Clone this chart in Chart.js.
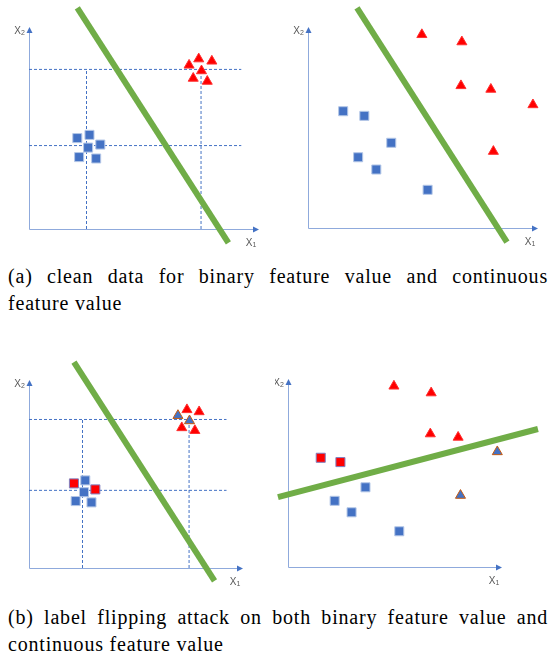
<!DOCTYPE html>
<html>
<head>
<meta charset="utf-8">
<script src="https://cdn.jsdelivr.net/npm/chart.js@4"></script>
<style>
  body { margin: 0; background: #fff; }
  #page { position: relative; width: 550px; height: 662px; overflow: hidden; }
  canvas { position: absolute; }
  .caption {
    position: absolute; left: 8px; width: 540px;
    font-family: "Liberation Serif", "Tinos", "Noto Serif", "DejaVu Serif", serif;
    font-size: 20px; line-height: 27px; color: #000; letter-spacing: 0.8px;
  }
  .caption .full { text-align: justify; text-align-last: justify; white-space: nowrap; }
</style>
</head>
<body>
<div id="page">
  <canvas id="c1" width="275" height="250" style="left:0;top:0"></canvas>
  <canvas id="c2" width="275" height="250" style="left:275px;top:0"></canvas>
  <canvas id="c3" width="275" height="255" style="left:0;top:340px"></canvas>
  <canvas id="c4" width="275" height="255" style="left:275px;top:340px"></canvas>
  <div class="caption" style="top:263px">
    <div class="full">(a) clean data for binary feature value and continuous</div>
    <div>feature value</div>
  </div>
  <div class="caption" style="top:604px">
    <div class="full">(b) label flipping attack on both binary feature value and</div>
    <div>continuous feature value</div>
  </div>
</div>
<script>
// values in axis units: each arrow runs from 0 to 10
var binSquaresX = [2.1, 2.63, 3.1, 2.57, 2.18, 2.92];
var binSquaresY = [4.5, 4.66, 4.18, 4.03, 3.56, 3.49];
var binTrianglesX = [6.96, 7.38, 7.95, 7.5, 7.14, 7.75];
var binTrianglesY = [8.11, 8.42, 8.31, 7.83, 7.46, 7.31];
var contSquaresX = [1.53, 2.45, 3.62, 2.18, 2.97, 5.2];
var contSquaresY = [5.81, 5.58, 4.24, 3.52, 2.91, 1.9];
var contTrianglesX = [4.95, 6.69, 6.65, 7.95, 9.78, 8.06];
var contTrianglesY = [9.62, 9.26, 7.08, 6.9, 6.13, 3.81];

// which points get the flipped label in (b)
var binSquaresFlip = [1, 0, 1, 0, 0, 0];
var binTrianglesFlip = [1, 0, 0, 1, 0, 0];
var contSquaresFlip = [1, 1, 0, 0, 0, 0];
var contTrianglesFlip = [0, 0, 0, 0, 1, 1];

// dashed guides of the binary feature values
var guideX = [2.5, 7.48];
var guideY = [4.13, 7.9];
var guideEnd = 9.23;

// decision boundaries: x1, y1, x2, y2
var boundaryBin = [2.1, 10.95, 8.67, -0.69];
var boundaryCont = [2.13, 10.95, 8.65, -0.7];
var boundaryFlip = [-0.47, 3.72, 11.68, 7.34];

var BLUE = '#4472C4', RED = '#FF0000', GREEN = '#70AD47';

function xy(xs, ys) {
  return xs.map(function(v, i) { return { x: v, y: ys[i] }; });
}

function pointSets(sqX, sqY, trX, trY, sqFlip, trFlip) {
  sqFlip = sqFlip || sqX.map(function() { return 0; });
  trFlip = trFlip || trX.map(function() { return 0; });
  return [{
    data: xy(sqX, sqY),
    pointStyle: 'rect',
    pointRadius: 6.4,
    pointBackgroundColor: sqFlip.map(function(f) { return f ? RED : BLUE; }),
    pointBorderColor: sqFlip.map(function(f) { return f ? '#8080C0' : '#B4C7E7'; }),
    pointBorderWidth: 1,
    showLine: false,
    order: 0
  }, {
    data: xy(trX, trY),
    pointStyle: 'triangle',
    pointRadius: 5.8,
    pointBackgroundColor: trFlip.map(function(f) { return f ? BLUE : RED; }),
    pointBorderColor: trFlip.map(function(f) { return f ? '#C55A11' : '#FF3030'; }),
    pointBorderWidth: 1,
    showLine: false,
    order: 0
  }];
}

function boundary(b) {
  return {
    data: [{ x: b[0], y: b[1] }, { x: b[2], y: b[3] }],
    showLine: true,
    borderColor: GREEN,
    borderWidth: 6,
    pointRadius: 0,
    order: 1
  };
}

function guides() {
  var sets = [];
  guideY.forEach(function(g) {
    sets.push({ data: [{ x: 0, y: g }, { x: guideEnd, y: g }] });
  });
  guideX.forEach(function(g) {
    sets.push({ data: [{ x: g, y: 0 }, { x: g, y: guideY[guideY.length - 1] }] });
  });
  sets.forEach(function(s) {
    s.showLine = true;
    s.borderColor = BLUE;
    s.borderWidth = 1;
    s.borderDash = [3, 2];
    s.pointRadius = 0;
    s.order = 2;
  });
  return sets;
}

// arrow axes and X1 / X2 labels
var arrowAxes = {
  id: 'arrowAxes',
  beforeDatasetsDraw: function(chart) {
    var ctx = chart.ctx;
    var x0 = Math.round(chart.scales.x.getPixelForValue(0)) + 0.5;
    var y0 = Math.round(chart.scales.y.getPixelForValue(0)) + 0.5;
    var x1 = chart.scales.x.getPixelForValue(10);
    var y1 = chart.scales.y.getPixelForValue(10);
    ctx.save();
    ctx.strokeStyle = '#8FAADC';
    ctx.lineWidth = 1;
    ctx.beginPath();
    ctx.moveTo(x0, y1 + 4);
    ctx.lineTo(x0, y0);
    ctx.lineTo(x1 - 4, y0);
    ctx.stroke();
    ctx.fillStyle = BLUE;
    ctx.beginPath();
    ctx.moveTo(x1, y0);
    ctx.lineTo(x1 - 6, y0 - 3);
    ctx.lineTo(x1 - 6, y0 + 3);
    ctx.fill();
    ctx.beginPath();
    ctx.moveTo(x0, y1);
    ctx.lineTo(x0 - 3, y1 + 6);
    ctx.lineTo(x0 + 3, y1 + 6);
    ctx.fill();

    ctx.fillStyle = '#595959';
    ctx.textBaseline = 'middle';
    function label(txt, sub, cx, cy) {
      ctx.font = '10px "Liberation Sans", sans-serif';
      var w = ctx.measureText(txt).width;
      ctx.font = '7px "Liberation Sans", sans-serif';
      var ws = ctx.measureText(sub).width;
      var left = cx - (w + ws) / 2;
      ctx.font = '10px "Liberation Sans", sans-serif';
      ctx.fillText(txt, left, cy);
      ctx.font = '7px "Liberation Sans", sans-serif';
      ctx.fillText(sub, left + w, cy + 2);
    }
    label('X', '2', x0 - 10, y1 + 4);
    label('X', '1', x1 - 8, y0 + 14);
    ctx.restore();
  }
};

function makeChart(id, ox, oy, xLen, yLen, datasets) {
  var canvas = document.getElementById(id);
  var w = canvas.width, h = canvas.height;
  var ux = xLen / 10, uy = yLen / 10;
  return new Chart(canvas, {
    type: 'scatter',
    data: { datasets: datasets },
    options: {
      responsive: false,
      animation: false,
      devicePixelRatio: 1,
      layout: { padding: 0, autoPadding: false },
      plugins: { legend: { display: false }, tooltip: { enabled: false } },
      scales: {
        x: { type: 'linear', display: false, min: -ox / ux, max: (w - ox) / ux },
        y: { type: 'linear', display: false, min: -(h - oy) / uy, max: oy / uy }
      }
    },
    plugins: [arrowAxes]
  });
}

document.addEventListener('DOMContentLoaded', function() {
  // (a) clean data
  makeChart('c1', 29, 229, 230, 202,
    pointSets(binSquaresX, binSquaresY, binTrianglesX, binTrianglesY)
      .concat([boundary(boundaryBin)]).concat(guides()));
  makeChart('c2', 33, 228, 230, 201,
    pointSets(contSquaresX, contSquaresY, contTrianglesX, contTrianglesY)
      .concat([boundary(boundaryCont)]));

  // (b) label flipping
  makeChart('c3', 29, 228, 214, 188,
    pointSets(binSquaresX, binSquaresY, binTrianglesX, binTrianglesY, binSquaresFlip, binTrianglesFlip)
      .concat([boundary(boundaryBin)]).concat(guides()));
  makeChart('c4', 13, 227, 214, 188,
    pointSets(contSquaresX, contSquaresY, contTrianglesX, contTrianglesY, contSquaresFlip, contTrianglesFlip)
      .concat([boundary(boundaryFlip)]));
});
</script>
</body>
</html>
